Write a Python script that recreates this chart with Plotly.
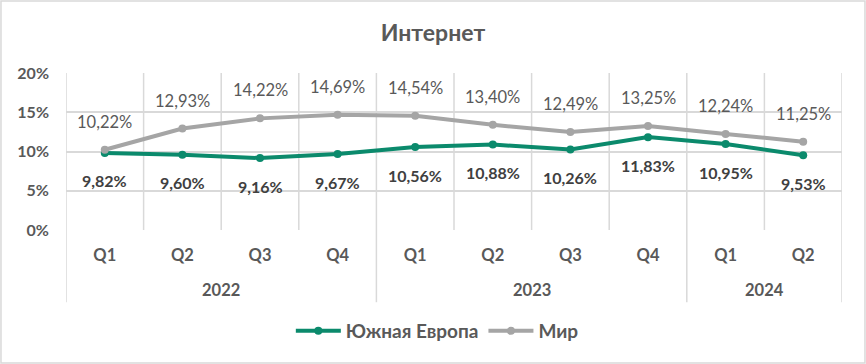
import plotly.graph_objects as go

quarters = ["Q1", "Q2", "Q3", "Q4", "Q1", "Q2", "Q3", "Q4", "Q1", "Q2"]
years = ["2022", "2023", "2024"]
year_counts = [4, 4, 2]
south_europe = [9.82, 9.60, 9.16, 9.67, 10.56, 10.88, 10.26, 11.83, 10.95, 9.53]
world = [10.22, 12.93, 14.22, 14.69, 14.54, 13.40, 12.49, 13.25, 12.24, 11.25]
y_ticks = [0, 5, 10, 15, 20]

GREEN = "#0B8A6C"
GRAY = "#A5A5A5"
TXT = "#595959"
GRID = "#D9D9D9"
FONT = "Lato"

xs = list(range(len(quarters)))

def fmt(v):
    return f"{v:.2f}".replace(".", ",") + "%"

fig = go.Figure()
fig.add_trace(go.Scatter(x=xs, y=south_europe, name="Южная Европа", mode="lines+markers",
                         line=dict(color=GREEN, width=4), marker=dict(size=8, color=GREEN)))
fig.add_trace(go.Scatter(x=xs, y=world, name="Мир", mode="lines+markers",
                         line=dict(color=GRAY, width=4), marker=dict(size=8, color=GRAY)))

ann = []
for x, v in zip(xs, world):
    ann.append(dict(x=x, y=v, xref="x", yref="y", text=fmt(v), showarrow=False, yshift=28,
                    font=dict(family=FONT, size=16.5, color=TXT)))
for x, v in zip(xs, south_europe):
    ann.append(dict(x=x, y=v, xref="x", yref="y", text="<b>" + fmt(v) + "</b>", showarrow=False,
                    yshift=-28, font=dict(family=FONT, size=16, color="#404040")))

shapes = []
for k in range(len(quarters) + 1):
    shapes.append(dict(type="line", xref="x", yref="y", x0=k - 0.5, x1=k - 0.5, y0=0, y1=20,
                       line=dict(color=GRID, width=1.5), layer="below"))
pos = -0.5
bounds = [pos]
for yr, c in zip(years, year_counts):
    ann.append(dict(x=pos + c / 2, y=-0.382, xref="x", yref="paper", yanchor="middle",
                    text="<b>" + yr + "</b>",
                    showarrow=False, font=dict(family=FONT, size=16.5, color=TXT)))
    pos += c
    bounds.append(pos)
for b in bounds:
    shapes.append(dict(type="line", xref="x", yref="paper", x0=b, x1=b, y0=-0.46, y1=0,
                       line=dict(color=GRID, width=1.5)))
shapes.append(dict(type="rect", xref="paper", yref="paper", x0=-0.0838, x1=1.0296, y0=-0.847, y1=1.4586,
                   line=dict(color=GRID, width=1.5)))

fig.update_layout(
    width=866, height=364,
    margin=dict(l=66, r=24, t=73, b=134, autoexpand=False),
    paper_bgcolor="white", plot_bgcolor="white",
    title=dict(text="<b>Интернет</b>", x=0.5, xref="container", xanchor="center",
               y=1 - 33 / 364, yref="container", yanchor="middle",
               font=dict(family=FONT, size=23, color=TXT)),
    font=dict(family=FONT, color=TXT),
    showlegend=True,
    legend=dict(orientation="h", x=0.505, xref="container", xanchor="center",
                y=1 - 331 / 364, yref="container", yanchor="middle",
                font=dict(family=FONT, size=19, color=TXT, weight="bold"), itemwidth=45,
                tracegroupgap=30),
    xaxis=dict(range=[-0.5, 9.5], tickvals=xs, ticktext=["<b>" + q + "</b>" for q in quarters],
               showgrid=False, zeroline=False, showline=False, ticks="", automargin=False,
               tickfont=dict(family=FONT, size=16.5, color=TXT), ticklabelstandoff=13),
    yaxis=dict(range=[0, 20], tickvals=y_ticks, ticktext=[f"<b>{t}%</b>" for t in y_ticks],
               showgrid=True, gridcolor=GRID, gridwidth=1.5, zeroline=False, showline=False, ticks="",
               automargin=False,
               tickfont=dict(family=FONT, size=16, color=TXT), ticklabelstandoff=16),
    annotations=ann,
    shapes=shapes,
)

fig.write_html("out.html", post_script="document.body.style.margin='0';",
               config={"displayModeBar": False})
